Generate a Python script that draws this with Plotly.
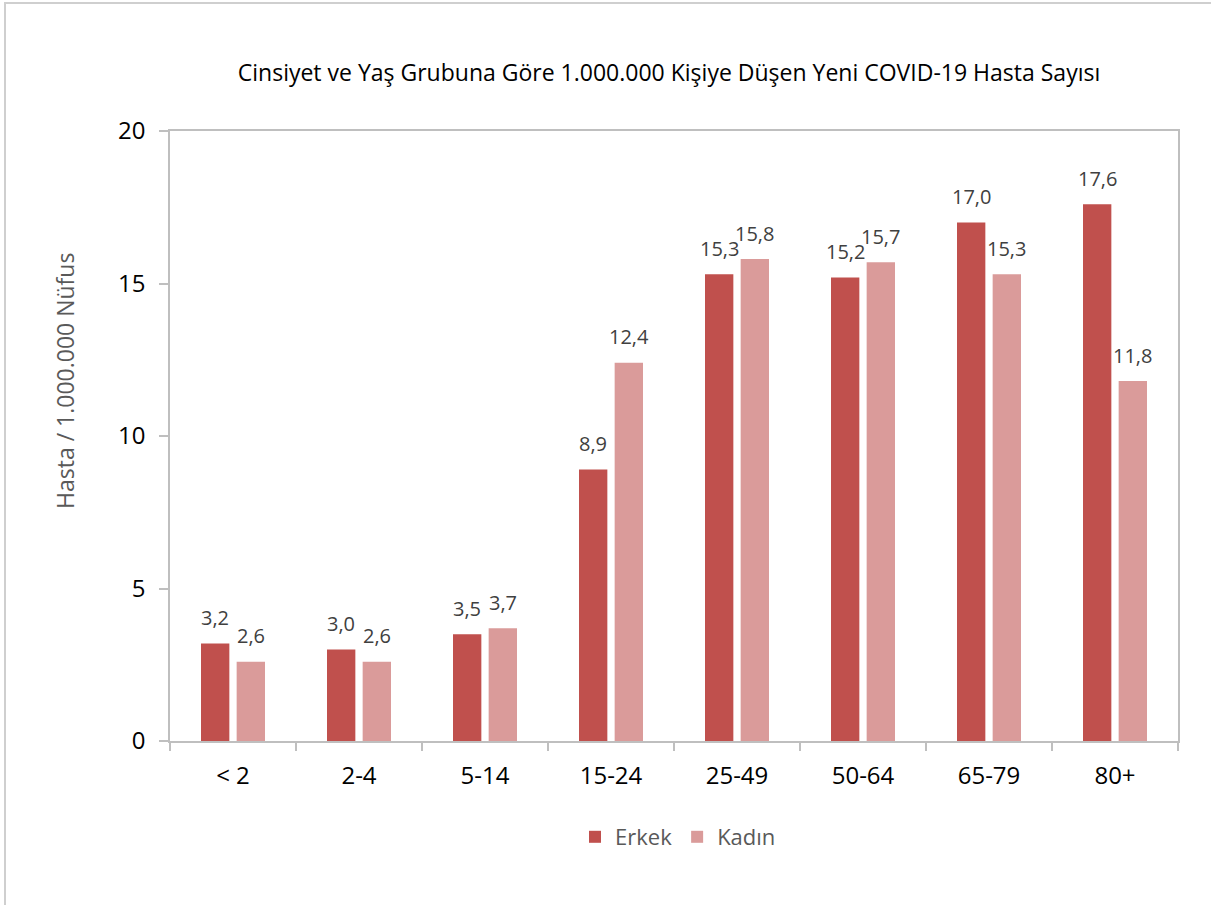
import plotly.graph_objects as go

categories = ["< 2", "2-4", "5-14", "15-24", "25-49", "50-64", "65-79", "80+"]
erkek = [3.2, 3.0, 3.5, 8.9, 15.3, 15.2, 17.0, 17.6]
kadin = [2.6, 2.6, 3.7, 12.4, 15.8, 15.7, 15.3, 11.8]
y_ticks = [0, 5, 10, 15, 20]

W, H = 1211, 905
L, R, T, B = 170, 33, 131, 164
pw, ph = W - L - R, H - T - B

FONT = "Open Sans"
C_ERKEK = "#C0504D"
C_KADIN = "#DA9B9A"
AXIS = "#BFBFBF"
LABEL = "#404040"

def fmt(v):
    return f"{v:.1f}".replace(".", ",")

fig = go.Figure()
fig.add_trace(go.Bar(name="Erkek", x=categories, y=erkek, marker_color=C_ERKEK,
                     marker_line_width=0, hoverinfo="skip"))
fig.add_trace(go.Bar(name="Kadın", x=categories, y=kadin, marker_color=C_KADIN,
                     marker_line_width=0, hoverinfo="skip"))

cat_w = pw / len(categories)
bargap = 0.434
bargroupgap = 0.205
slot = cat_w * (1 - bargap) / 2
shift = slot / 2

annotations = []
for c, v in zip(categories, erkek):
    annotations.append(dict(x=c, y=v, xref="x", yref="y", text=fmt(v), showarrow=False,
                            xshift=-shift, yshift=26, yanchor="middle",
                            font=dict(family=FONT, size=20, color=LABEL)))
for c, v in zip(categories, kadin):
    annotations.append(dict(x=c, y=v, xref="x", yref="y", text=fmt(v), showarrow=False,
                            xshift=shift, yshift=26, yanchor="middle",
                            font=dict(family=FONT, size=20, color=LABEL)))

# y-axis title
annotations.append(dict(x=(65 - L) / pw, y=(T + ph - 381) / ph, xref="paper", yref="paper",
                        text="Hasta / 1.000.000 Nüfus", textangle=-90, showarrow=False,
                        xanchor="center", yanchor="middle",
                        font=dict(family=FONT, size=23, color="#595959")))

fig.update_layout(
    width=W, height=H,
    margin=dict(l=L, r=R, t=T, b=B, autoexpand=False),
    paper_bgcolor="white", plot_bgcolor="white",
    barmode="group", bargap=bargap, bargroupgap=bargroupgap,
    title=dict(text="Cinsiyet ve Yaş Grubuna Göre 1.000.000 Kişiye Düşen Yeni COVID-19 Hasta Sayısı",
               x=669 / W, xanchor="center", y=1 - 73 / H, yanchor="middle",
               font=dict(family=FONT, size=23, color="#000000")),
    font=dict(family=FONT, color="#000000"),
    showlegend=True,
    legend=dict(orientation="h", x=(678 - L) / pw, xanchor="center",
                y=-(837 - (T + ph)) / ph, yanchor="middle",
                font=dict(family=FONT, size=22, color="#595959"),
                itemwidth=30, traceorder="normal"),
    annotations=annotations,
    shapes=[dict(type="rect", xref="paper", yref="paper",
                 x0=(5 - L) / pw, x1=(W + 5 - L) / pw,
                 y0=-(H + 5 - T - ph) / ph, y1=(T + ph - 3) / ph,
                 line=dict(color="#CFCFCF", width=2), fillcolor="rgba(0,0,0,0)", layer="below")],
)

fig.update_xaxes(
    showline=True, linecolor=AXIS, linewidth=1.5, mirror=True,
    ticks="outside", tickson="boundaries", ticklen=8, tickcolor=AXIS, tickwidth=1.5,
    tickfont=dict(family=FONT, size=24, color="#000000"), ticklabelstandoff=12,
    showgrid=False, fixedrange=True,
)
fig.update_yaxes(
    range=[0, 20], tickvals=y_ticks, ticktext=[str(t) for t in y_ticks],
    showline=True, linecolor=AXIS, linewidth=1.5, mirror=True,
    ticks="outside", ticklen=9, tickcolor=AXIS, tickwidth=1.5,
    tickfont=dict(family=FONT, size=24, color="#000000"), ticklabelstandoff=9,
    showgrid=False, zeroline=False, fixedrange=True,
)

fig.write_html("out.html", config={"displayModeBar": False},
               post_script="document.body.style.margin='0';document.body.style.overflow='hidden';")
